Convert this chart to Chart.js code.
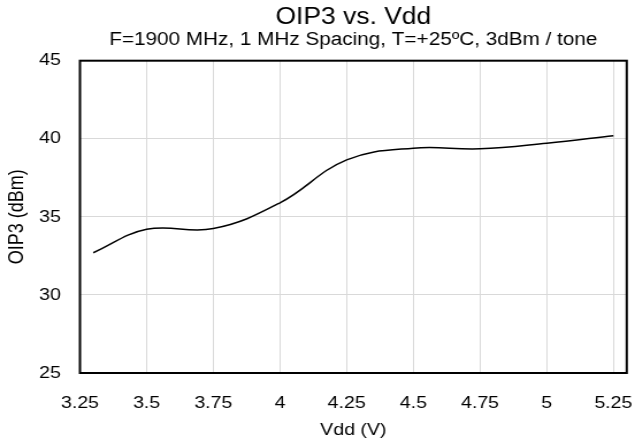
<!DOCTYPE html>
<html>
<head>
<meta charset="utf-8">
<script src="https://cdn.jsdelivr.net/npm/chart.js@4"></script>
<style>
  html, body { margin: 0; padding: 0; background: #fff; }
  #wrap { width: 635px; height: 444px; overflow: hidden; }
  /* the source picture is wider than it is tall in its lettering, so stretch the canvas a bit */
  #oip3Chart { transform: scaleX(1.15036); transform-origin: 0 0; }
</style>
</head>
<body>
<div id="wrap"><canvas id="oip3Chart" width="552" height="444"></canvas></div>
<script>
// -----Data
var vdd = [3.3, 3.5, 3.75, 4.0, 4.25, 4.5, 4.75, 5.0, 5.25]
var oip3 = [32.7, 34.2, 34.25, 35.9, 38.65, 39.4, 39.36, 39.72, 40.2]
var xTicks = [3.25, 3.5, 3.75, 4, 4.25, 4.5, 4.75, 5, 5.25]
var yTicks = [25, 30, 35, 40, 45]

var font = 'Liberation Sans, Arial, sans-serif'

// -----Frame around the plot area
var frameBox = {
  id: 'frameBox',
  afterDraw: function(chart) {
    var a = chart.chartArea
    var ctx = chart.ctx
    ctx.save()
    ctx.strokeStyle = '#000'
    ctx.lineWidth = 2
    ctx.strokeRect(a.left, a.top, a.right - a.left, a.bottom - a.top)
    ctx.restore()
  }
}

var points = vdd.map(function(v, i) { return {x: v, y: oip3[i]} })

var ctx = document.getElementById('oip3Chart')
var myChart = new Chart(ctx, {
  type: 'line',
  data: {
    datasets: [{
      data: points,
      borderColor: '#000',
      borderWidth: 1.5,
      pointRadius: 0,
      tension: 0.4,
      fill: false
    }]
  },
  options: {
    responsive: false,
    animation: false,
    layout: { padding: { top: 0, right: 7.2, left: 0, bottom: 0 } },
    plugins: {
      legend: { display: false },
      tooltip: { enabled: false },
      title: {
        display: true,
        fullSize: false,
        text: 'OIP3 vs. Vdd',
        color: '#000',
        font: { family: font, size: 23, weight: 'normal', lineHeight: 1 },
        padding: { top: 6.2, bottom: 0 }
      },
      subtitle: {
        display: true,
        fullSize: false,
        text: 'F=1900 MHz, 1 MHz Spacing, T=+25ºC, 3dBm / tone',
        color: '#000',
        font: { family: font, size: 18, weight: 'normal', lineHeight: 1 },
        padding: { top: 1.5, bottom: 12 }
      }
    },
    scales: {
      x: {
        type: 'linear',
        min: xTicks[0],
        max: 5.3,
        afterFit: function(scale) {
          scale.height = 71
          // labels sit inside the frame width, no side padding wanted
          scale.paddingLeft = 0
          scale.paddingRight = 0
        },
        afterBuildTicks: function(scale) {
          scale.ticks = xTicks.map(function(v) { return {value: v} })
        },
        ticks: {
          color: '#000',
          font: { family: font, size: 17 },
          padding: 20,
          maxRotation: 0,
          autoSkip: false,
          callback: function(v) { return String(+v.toFixed(2)) }
        },
        grid: { color: '#d9d9d9', lineWidth: 1, drawTicks: false },
        border: { display: false },
        title: {
          display: true,
          text: 'Vdd (V)',
          color: '#000',
          font: { family: font, size: 17 },
          padding: { top: 0, bottom: 3 }
        }
      },
      y: {
        min: yTicks[0],
        max: yTicks[yTicks.length - 1],
        afterFit: function(scale) { scale.width = 69.5 },
        afterBuildTicks: function(scale) {
          scale.ticks = yTicks.map(function(v) { return {value: v} })
        },
        ticks: {
          color: '#000',
          font: { family: font, size: 17 },
          padding: 16.5
        },
        grid: { color: '#d9d9d9', lineWidth: 1, drawTicks: false },
        border: { display: false },
        title: {
          display: true,
          text: 'OIP3 (dBm)',
          color: '#000',
          font: { family: font, size: 18 },
          padding: { top: 4.4, bottom: 0 }
        }
      }
    }
  },
  plugins: [frameBox]
})
</script>
</body>
</html>
